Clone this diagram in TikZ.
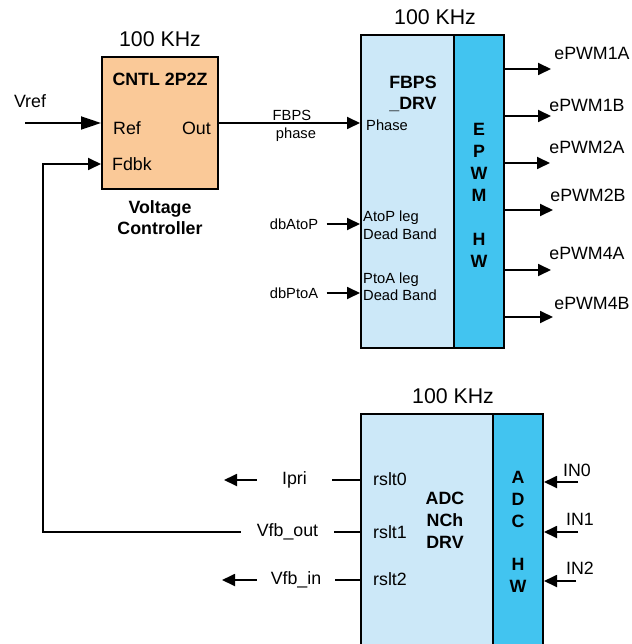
\documentclass[tikz,border=0pt]{standalone}
\usepackage{fontspec}
\setmainfont{Liberation Sans}
\usetikzlibrary{arrows.meta,positioning}
\definecolor{CntlOrange}{RGB}{250,201,152}
\definecolor{DrvBlue}{RGB}{204,232,248}
\definecolor{HwBlue}{RGB}{66,196,240}
\newcommand{\fshead}{\fontsize{21.3}{25}\selectfont}
\newcommand{\fsreg}{\fontsize{17.8}{21}\selectfont}
\newcommand{\fsbold}{\fontsize{17.8}{21.5}\selectfont\bfseries}
\newcommand{\fssmall}{\fontsize{14.7}{17.5}\selectfont}

\begin{document}
\begin{tikzpicture}[x=1pt,y=-1pt,>={Triangle[length=13pt,width=12pt]},
  blk/.style={draw,line width=2pt,inner sep=0pt},
  wire/.style={line width=1.8pt},
  reg/.style={font=\fsreg},
  small/.style={font=\fssmall,align=left,inner sep=0pt},
  bold/.style={font=\fsbold,align=center},
  head/.style={font=\fshead}]
  \clip (0,0) rectangle (631,644);

  % voltage controller
  \node[blk,fill=CntlOrange,minimum width=116pt,minimum height=132pt] (cntl) at (160,123) {};
  \node[head] (cntlclk) at (160,39) {100 KHz};
  \node[bold] (cntlname) at (160,79) {CNTL 2P2Z};
  \node[reg,anchor=west,inner sep=0pt] (ref) at (113,128) {Ref};
  \node[reg,anchor=east,inner sep=0pt] (out) at (211,128) {Out};
  \node[reg,anchor=west,inner sep=0pt] (fdbk) at (112,164) {Fdbk};
  \node[bold] (cntltitle) at (160,217.5) {Voltage\\Controller};
  \node[reg] (vref) at (30,101) {Vref};
  \coordinate (vrefin) at (25,123);
  \draw[wire,-{Triangle[length=20pt,width=13pt]}] (vrefin) -- (cntl.west);

  % FBPS driver + EPWM hardware
  \node[blk,fill=DrvBlue,minimum width=93pt,minimum height=313pt] (fbps) at (407.5,191.5) {};
  \node[blk,fill=HwBlue,minimum width=50pt,minimum height=313pt] (epwm) at (479,191.5) {};
  \node[head] (fbpsclk) at (435,17) {100 KHz};
  \node[bold] (fbpsname) at (413,94) {FBPS\\\_DRV};
  \node[bold,font=\fontsize{17.8}{22}\selectfont\bfseries] (epwmname) at (479,195) {E\\P\\W\\M\\[22pt]H\\W};
  \node[small,anchor=west] (phase) at (366,125) {Phase};
  \node[small,anchor=west] (atop) at (363,225) {AtoP leg\\Dead Band};
  \node[small,anchor=west] (ptoa) at (363,286.5) {PtoA leg\\Dead Band};

  \node[small,align=center] (fbpsphase) at (296,126) {FBPS\_\\phase};
  \draw[wire,->] (cntl.east) -- (fbps.west |- cntl.east);

  \node[font=\fssmall] (dbatop) at (294,224) {dbAtoP};
  \node[font=\fssmall] (dbptoa) at (294,293) {dbPtoA};
  \draw[wire,->] ([xshift=5pt]dbatop.east) -- (fbps.west |- dbatop);
  \draw[wire,->] ([xshift=5pt]dbptoa.east) -- (fbps.west |- dbptoa);

  % PWM outputs
  \node[reg] (pwm1a) at (592,53) {ePWM1A};
  \node[reg] (pwm1b) at (587,105) {ePWM1B};
  \node[reg] (pwm2a) at (587,147) {ePWM2A};
  \node[reg] (pwm2b) at (588,195) {ePWM2B};
  \node[reg] (pwm4a) at (587,253) {ePWM4A};
  \node[reg] (pwm4b) at (592,303) {ePWM4B};
  \draw[wire,->] (epwm.east |- 0,69) -- (551,69);
  \draw[wire,->] (epwm.east |- 0,116) -- (551,116);
  \draw[wire,->] (epwm.east |- 0,163) -- (550,163);
  \draw[wire,->] (epwm.east |- 0,210) -- (553,210);
  \draw[wire,->] (epwm.east |- 0,270) -- (551,270);
  \draw[wire,->] (epwm.east |- 0,317) -- (553,317);

  % ADC driver + ADC hardware
  \node[blk,fill=DrvBlue,minimum width=132pt,minimum height=236pt] (adcdrv) at (427,532) {};
  \node[blk,fill=HwBlue,minimum width=50pt,minimum height=236pt] (adchw) at (518,532) {};
  \node[head] (adcclk) at (453,396) {100 KHz};
  \node[bold,font=\fontsize{17.8}{22}\selectfont\bfseries] (adcname) at (445,520) {ADC\\NCh\\DRV};
  \node[bold,font=\fontsize{17.8}{21.8}\selectfont\bfseries] (adchwname) at (518,532) {A\\D\\C\\[21.8pt]H\\W};
  \node[reg,anchor=west,inner sep=0pt] (rslt0) at (373,479) {rslt0};
  \node[reg,anchor=west,inner sep=0pt] (rslt1) at (373,532) {rslt1};
  \node[reg,anchor=west,inner sep=0pt] (rslt2) at (373,579) {rslt2};

  \node[reg] (in0) at (577,470) {IN0};
  \node[reg] (in1) at (580,519) {IN1};
  \node[reg] (in2) at (580,568) {IN2};
  \coordinate (in0src) at (578,482);
  \coordinate (in1src) at (578,532);
  \coordinate (in2src) at (576,581);
  \draw[wire,->] (in0src) -- (adchw.east |- in0src);
  \draw[wire,->] (in1src) -- (adchw.east |- in1src);
  \draw[wire,->] (in2src) -- (adchw.east |- in2src);

  % results going out
  \node[reg,minimum width=75pt,inner sep=0pt] (ipri) at (294.5,480) {Ipri};
  \node[reg,minimum width=93pt,inner sep=0pt] (vfbout) at (287.5,532) {Vfb\_out};
  \node[reg,minimum width=78pt,inner sep=0pt] (vfbin) at (296,580) {Vfb\_in};
  \coordinate (ipriend) at (224,480);
  \coordinate (vfbinend) at (222,580);
  \coordinate (fbcorner) at (43,532);
  \draw[wire] (adcdrv.west |- ipri) -- (ipri.east);
  \draw[wire,->] (ipri.west) -- (ipriend);
  \draw[wire] (adcdrv.west |- vfbout) -- (vfbout.east);
  \draw[wire] (adcdrv.west |- vfbin) -- (vfbin.east);
  \draw[wire,->] (vfbin.west) -- (vfbinend);

  % feedback path
  \draw[wire,->] (vfbout.west) -- (fbcorner) |- (cntl.west |- fdbk);
\end{tikzpicture}
\end{document}
